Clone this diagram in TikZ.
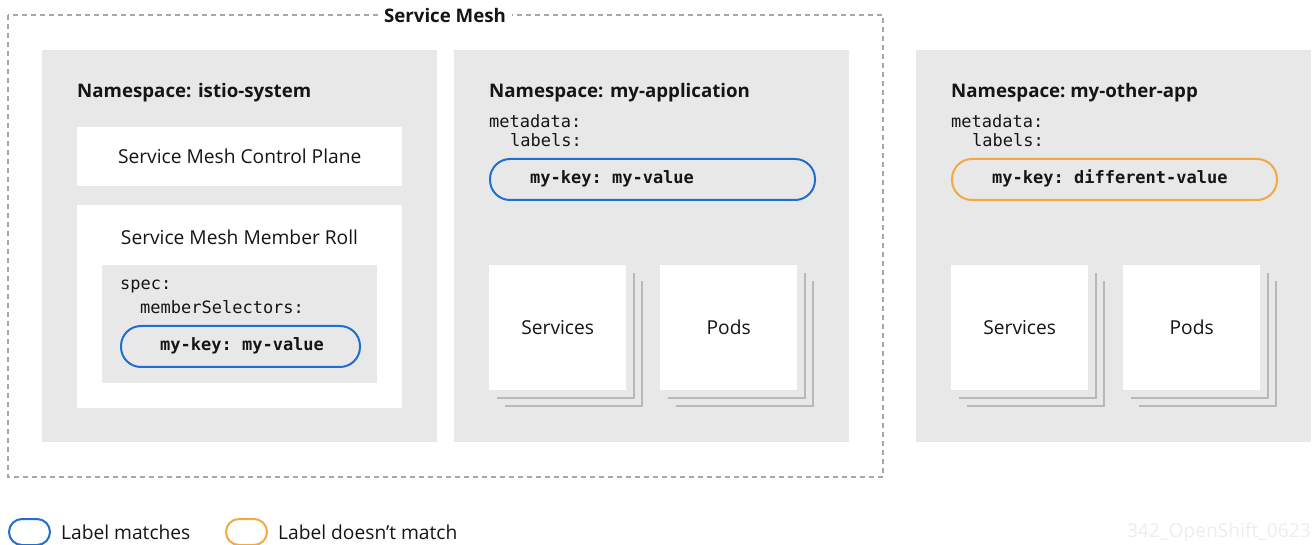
\documentclass[tikz,border=0pt]{standalone}
\usepackage{fontspec}
\setmainfont{Open Sans}
\setmonofont{DejaVu Sans Mono}
\usetikzlibrary{positioning}
\definecolor{nsgray}{HTML}{E8E8E8}
\definecolor{inkdark}{HTML}{151515}
\definecolor{matchblue}{HTML}{1F6FD0}
\definecolor{missorange}{HTML}{F5A742}
\definecolor{shadowgray}{HTML}{B8B8B8}
\definecolor{dashgray}{HTML}{A8A8A8}

\begin{document}
\begin{tikzpicture}[x=1pt,y=-1pt,
  every node/.style={text=inkdark},
  nsbox/.style={fill=nsgray,draw=none,anchor=north west,inner sep=0pt},
  whitebox/.style={fill=white,draw=none,anchor=north west,inner sep=0pt},
  heading/.style={anchor=west,inner sep=0pt,font=\fontsize{18.7}{20}\selectfont\bfseries},
  plain/.style={inner sep=0pt,font=\fontsize{19.2}{21}\selectfont},
  code/.style={anchor=west,inner sep=0pt,font=\fontsize{17}{19}\selectfont\ttfamily},
  keytext/.style={code,font=\fontsize{17}{19}\selectfont\ttfamily\bfseries},
  pill/.style={draw=#1,line width=2pt,rounded corners=20pt,anchor=north west,inner sep=0pt,minimum height=41pt},
  shadowline/.style={draw=shadowgray,line width=2pt}]

  % canvas
  \useasboundingbox (0,0) rectangle (1315,545);

  % help functions
        % white card with two stacked edges behind it
  \def\stackCard(#1,#2,#3,#4){
    \node[whitebox,minimum width=137pt,minimum height=125pt] (#1) at (#2,#3) {};
    \node[plain] (#1-text) at (#1.center) {#4};
    \foreach \off in {8,16}{
      \draw[shadowline] ([shift={(\off,\off)}]#1.north east)
        -- ([shift={(\off,\off)}]#1.south east)
        -- ([shift={(\off,\off)}]#1.south west);
    }}

  % MESH OUTLINE
  \draw[dashgray,line width=1.2pt,dash pattern=on 5pt off 4pt] (8,15) rectangle (883,477);
  \node[fill=white,inner sep=6pt,font=\fontsize{18.7}{20}\selectfont\bfseries] (mesh) at (445,15) {Service Mesh};

  % NAMESPACE: istio-system
  \node[nsbox,minimum width=395pt,minimum height=392pt] (istio) at (42,50) {};
  \node[heading] (istio-title) at (77,93) {Namespace: istio-system};
  \node[whitebox,minimum width=325pt,minimum height=59pt] (smcp) at (77,127) {};
  \node[plain] (smcp-text) at (smcp.center) {Service Mesh Control Plane};
  \node[whitebox,minimum width=325pt,minimum height=203pt] (smmr) at (77,205) {};
  \node[plain] (smmr-text) at (239.5,237) {Service Mesh Member Roll};
  \node[nsbox,minimum width=275pt,minimum height=118pt] (spec) at (102,265) {};
  \node[code] (spec-a) at (120,287) {spec:};
  \node[code] (spec-b) at (140,307) {memberSelectors:};
  \node[pill=matchblue,minimum width=239pt] (sel) at (120,325) {};
  \node[keytext] (sel-text) at (160,345.5) {my-key: my-value};

  % NAMESPACE: my-application
  \node[nsbox,minimum width=395pt,minimum height=392pt] (app) at (454,50) {};
  \node[heading] (app-title) at (489,93) {Namespace: my-application};
  \node[code] (app-a) at (489,121) {metadata:};
  \node[code] (app-b) at (510,140) {labels:};
  \node[pill=matchblue,minimum width=325pt] (applabel) at (489,158) {};
  \node[keytext] (applabel-text) at (530,178.5) {my-key: my-value};
  \stackCard(appsvc,489,265,Services)
  \stackCard(apppod,660,265,Pods)

  % NAMESPACE: my-other-app
  \node[nsbox,minimum width=395pt,minimum height=392pt] (other) at (916,50) {};
  \node[heading] (other-title) at (951,93) {Namespace:\ my-other-app};
  \node[code] (other-a) at (951,121) {metadata:};
  \node[code] (other-b) at (972,140) {labels:};
  \node[pill=missorange,minimum width=325pt] (otherlabel) at (951,158) {};
  \node[keytext] (otherlabel-text) at (992,178.5) {my-key: different-value};
  \stackCard(othersvc,951,265,Services)
  \stackCard(otherpod,1123,265,Pods)

  % LEGEND
  \node[pill=matchblue,minimum width=41pt,minimum height=26pt,rounded corners=13pt] (keyyes) at (8,518) {};
  \node[plain,anchor=west,right=10pt of keyyes] (keyyes-text) {Label matches};
  \node[pill=missorange,minimum width=41pt,minimum height=26pt,rounded corners=13pt] (keyno) at (225,518) {};
  \node[plain,anchor=west,right=10pt of keyno] (keyno-text) {Label doesn’t match};
  \node[plain,anchor=east,text=black!7] (stamp) at (1311,532) {342\_OpenShift\_0623};

\end{tikzpicture}
\end{document}
